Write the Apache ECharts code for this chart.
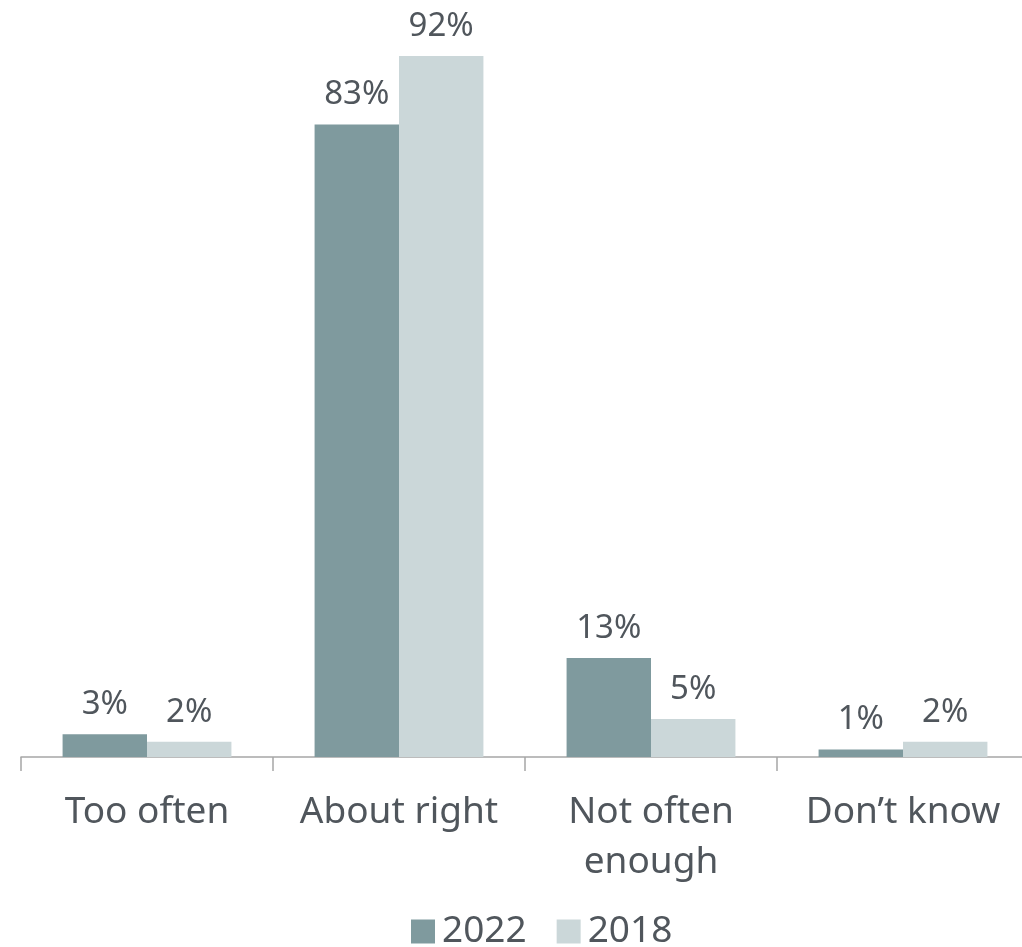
<!DOCTYPE html>
<html lang="en">
<head>
<meta charset="utf-8">
<script src="https://cdn.jsdelivr.net/npm/echarts@6/dist/echarts.min.js"></script>
<title>Frequency</title>
<style>
  html, body { margin: 0; padding: 0; background: #fff; }
  #chart { width: 1022px; height: 947px; }
</style>
</head>
<body>
<div id="chart"></div>
<script>
// data
var categories = ['Too often', 'About right', 'Not often\nenough', 'Don\u2019t know'];
var values2022 = [3, 83, 13, 1];
var values2018 = [2, 92, 5, 2];
var seriesNames = ['2022', '2018'];

var textColor = '#50565c';
var font = 'Noto Sans';

var myChart = echarts.init(document.getElementById('chart'));
var labelOpt = {
    show: true,
    position: 'top',
    distance: 13,
    formatter: '{c}%',
    color: textColor,
    fontFamily: font,
    fontSize: 33
};
var option = {
    animation: false,
    grid: { left: 21, width: 1008, top: 56, bottom: 190, containLabel: false, outerBoundsMode: 'none' },
    legend: {
        data: seriesNames,
        left: 406,
        top: 908,
        icon: 'rect',
        itemWidth: 24,
        itemHeight: 24,
        itemGap: 30,
        textStyle: { color: textColor, fontFamily: font, fontSize: 37, padding: [0, 0, 0, 2] }
    },
    xAxis: {
        type: 'category',
        data: categories,
        axisLine: { lineStyle: { color: '#a6a6a6', width: 1.5 } },
        axisTick: { show: true, length: 14, lineStyle: { color: '#a6a6a6', width: 1.5 } },
        axisLabel: {
            color: textColor,
            fontFamily: font,
            fontSize: 37,
            lineHeight: 50,
            margin: 30,
            interval: 0
        }
    },
    yAxis: {
        type: 'value',
        min: 0,
        max: 92,
        show: false
    },
    series: [
        {
            name: seriesNames[0],
            type: 'bar',
            data: values2022,
            barGap: '0%',
            barCategoryGap: '33%',
            itemStyle: { color: '#7f9a9e' },
            label: labelOpt
        },
        {
            name: seriesNames[1],
            type: 'bar',
            data: values2018,
            itemStyle: { color: '#cbd7d9' },
            label: labelOpt
        }
    ]
};
myChart.setOption(option);
</script>
</body>
</html>
